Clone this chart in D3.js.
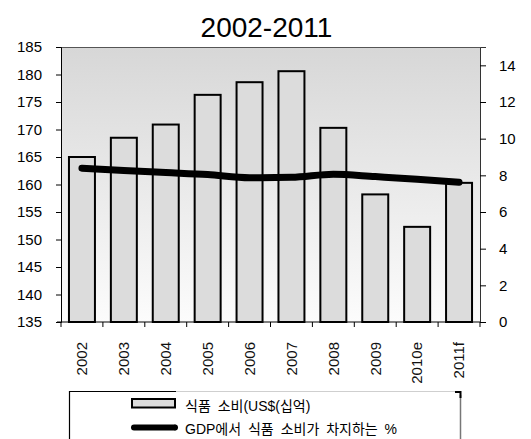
<!DOCTYPE html>
<html>
<head>
<meta charset="utf-8">
<script src="https://cdn.jsdelivr.net/npm/d3@7"></script>
<style>
  html, body { margin: 0; padding: 0; background: #fff; }
  svg { display: block; }
  text { font-family: "Liberation Sans", Arial, sans-serif; fill: #000; }
</style>
</head>
<body>
<svg id="chart" width="531" height="439"></svg>
<script>
// Food consumption (US$ bn) and its share of GDP (%)
const categories = ["2002", "2003", "2004", "2005", "2006", "2007", "2008", "2009", "2010e", "2011f"];
const consumption = [165.0, 168.5, 170.9, 176.3, 178.6, 180.6, 170.3, 158.2, 152.3, 160.3];
const gdpShare = [8.39, 8.26, 8.15, 8.04, 7.87, 7.89, 8.06, 7.93, 7.79, 7.62];
const leftTicks = [135, 140, 145, 150, 155, 160, 165, 170, 175, 180, 185];
const rightTicks = [0, 2, 4, 6, 8, 10, 12, 14];
const titleText = "2002-2011";
const legendLabels = ["식품 소비(US$(십억)", "GDP에서 식품 소비가 차지하는 %"];

const svg = d3.select("#chart");
const plot = { left: 61, right: 480, top: 47, bottom: 322 };

const x = d3.scaleBand().domain(categories)
  .range([plot.left, plot.right]).paddingInner(0.38).paddingOuter(0.19);
const yL = d3.scaleLinear().domain([135, 185]).range([plot.bottom, plot.top]);
const yR = d3.scaleLinear().domain([0, 15]).range([plot.bottom, plot.top]);

// plot background gradient
const defs = svg.append("defs");
const grad = defs.append("linearGradient").attr("id", "bg")
  .attr("x1", 0).attr("y1", 0).attr("x2", 0).attr("y2", 1);
grad.append("stop").attr("offset", "0%").attr("stop-color", "#d7d7d7");
grad.append("stop").attr("offset", "100%").attr("stop-color", "#fcfcfc");

svg.append("rect")
  .attr("x", plot.left).attr("y", plot.top)
  .attr("width", plot.right - plot.left).attr("height", plot.bottom - plot.top)
  .attr("fill", "url(#bg)");

// frame: top and right edges
svg.append("path")
  .attr("d", `M${plot.left},${plot.top + 0.5}H${plot.right + 0.5}V${plot.bottom}`)
  .attr("fill", "none").attr("stroke", "#555").attr("stroke-width", 1);

// title
svg.append("text")
  .attr("x", 266.5).attr("y", 37)
  .attr("text-anchor", "middle")
  .style("font-size", "28px")
  .text(titleText);

// bars
svg.append("g").selectAll("rect")
  .data(categories)
  .join("rect")
  .attr("x", d => x(d))
  .attr("width", x.bandwidth())
  .attr("y", (d, i) => yL(consumption[i]))
  .attr("height", (d, i) => yL(135) - yL(consumption[i]))
  .attr("fill", "#dcdcdc")
  .attr("stroke", "#000")
  .attr("stroke-width", 2);

// share-of-GDP line
const line = d3.line()
  .x((d, i) => x(categories[i]) + x.bandwidth() / 2)
  .y(d => yR(d))
  .curve(d3.curveMonotoneX);
svg.append("path")
  .datum(gdpShare)
  .attr("d", line)
  .attr("fill", "none")
  .attr("stroke", "#000")
  .attr("stroke-width", 7)
  .attr("stroke-linecap", "round")
  .attr("stroke-linejoin", "round");

// left axis
const axL = svg.append("g")
  .attr("transform", `translate(${plot.left},0)`)
  .call(d3.axisLeft(yL).tickValues(leftTicks).tickSize(5).tickPadding(14).tickFormat(d3.format("d")));
axL.select(".domain").attr("stroke", "#000");
axL.selectAll("text").style("font-size", "15px").style("font-family", "'Liberation Sans', Arial, sans-serif").attr("fill", "#111");

// right axis
const axR = svg.append("g")
  .attr("transform", `translate(${plot.right},0)`)
  .call(d3.axisRight(yR).tickValues(rightTicks).tickSize(6).tickPadding(13).tickFormat(d3.format("d")));
axR.select(".domain").attr("stroke", "#333");
axR.selectAll("text").style("font-size", "15px").style("font-family", "'Liberation Sans', Arial, sans-serif").attr("fill", "#111");

// bottom axis: ticks between categories, rotated labels
const xAxisG = svg.append("g").attr("transform", `translate(0,${plot.bottom})`);
xAxisG.append("line")
  .attr("x1", plot.left - 4).attr("x2", plot.right)
  .attr("stroke", "#000");
const boundaries = d3.range(categories.length + 1).map(i => plot.left + i * x.step());
xAxisG.selectAll("line.tick")
  .data(boundaries)
  .join("line").attr("class", "tick")
  .attr("x1", d => d).attr("x2", d => d)
  .attr("y1", 0).attr("y2", 5)
  .attr("stroke", "#000");
xAxisG.selectAll("text")
  .data(categories)
  .join("text")
  .attr("transform", d => `translate(${x(d) + x.bandwidth() / 2},20) rotate(-90)`)
  .attr("text-anchor", "end")
  .attr("dy", "0.35em")
  .style("font-size", "15px")
  .style("fill", "#111")
  .text(d => d);

// legend
const lg = svg.append("g");
lg.append("path")
  .attr("d", "M176,391.5H455")
  .attr("stroke", "#cfcfcf").attr("fill", "none");
lg.append("path")
  .attr("d", "M460.5,395V445")
  .attr("stroke", "#777").attr("stroke-width", 1.5).attr("fill", "none");
lg.append("path")
  .attr("d", "M455,392H460.5V398")
  .attr("stroke", "#000").attr("stroke-width", 2).attr("fill", "none");
lg.append("path")
  .attr("d", "M69.5,445V391.5H176")
  .attr("stroke", "#000").attr("stroke-width", 1.2).attr("fill", "none");

lg.append("rect")
  .attr("x", 132).attr("y", 399).attr("width", 43).attr("height", 8.5)
  .attr("fill", "#dcdcdc").attr("stroke", "#000").attr("stroke-width", 2);
lg.append("line")
  .attr("x1", 134).attr("x2", 175).attr("y1", 427.5).attr("y2", 427.5)
  .attr("stroke", "#000").attr("stroke-width", 6).attr("stroke-linecap", "round");
lg.append("path")
  .attr("d", "M175,424.5V430.5")
  .attr("stroke", "#000");

lg.selectAll("text.lab")
  .data(legendLabels)
  .join("text").attr("class", "lab")
  .attr("x", 185)
  .attr("y", (d, i) => i === 0 ? 410.5 : 434)
  .style("font-size", "14px")
  .style("word-spacing", "3px")
  .style("font-family", "'Liberation Sans', 'Noto Sans CJK KR', sans-serif")
  .text(d => d);
</script>
</body>
</html>
